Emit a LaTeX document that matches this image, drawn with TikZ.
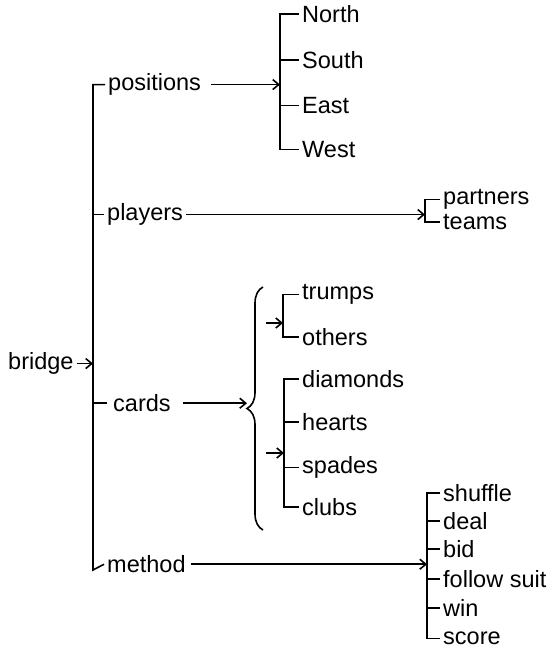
\documentclass[tikz,border=0pt]{standalone}
\usepackage{fontspec}
\setmainfont{Liberation Sans}
\usetikzlibrary{arrows.meta,decorations.pathreplacing}
\tikzset{
  lbl/.style={anchor=mid west, inner sep=0pt, font=\fontsize{23.5}{27}\selectfont},
  ln/.style={line width=1.6pt},
  arr/.style={line width=1.6pt, -{Straight Barb[length=6pt,width=10pt,line width=1.6pt]}}
}
\begin{document}
\begin{tikzpicture}[x=1pt,y=-1pt]
\useasboundingbox (0,0) rectangle (553,652);
\begin{scope}[shift={(0,5)}]
% root
\node[lbl] (bridge) at (8,362) {bridge};
\coordinate (mtop) at (93,83);
\coordinate (mbot) at (93,565);
% level 1
\node[lbl] (positions) at (108,83) {positions};
\node[lbl] (players) at (107,213) {players};
\node[lbl] (cards) at (113,404) {cards};
\node[lbl] (method) at (107,565) {method};
% positions group
\coordinate (pv) at (280,15);
\node[lbl] (north) at (302,15) {North};
\node[lbl] (south) at (302,61) {South};
\node[lbl] (east) at (302,106) {East};
\node[lbl] (west) at (302,150) {West};
% players group
\coordinate (plv) at (425,197);
\node[lbl] (partners) at (443,197) {partners};
\node[lbl] (teams) at (443,222) {teams};
% cards groups
\coordinate (bracetip) at (247,404);
\coordinate (tv) at (283,292);
\node[lbl] (trumps) at (302,292) {trumps};
\node[lbl] (others) at (302,338) {others};
\coordinate (tarr) at (266,318);
\coordinate (dv) at (284,380);
\node[lbl] (diamonds) at (302,380) {diamonds};
\node[lbl] (hearts) at (302,423) {hearts};
\node[lbl] (spades) at (302,466) {spades};
\node[lbl] (clubs) at (302,508) {clubs};
\coordinate (darr) at (266,448);
% method group
\coordinate (mv) at (427,494);
\node[lbl] (shuffle) at (443,494) {shuffle};
\node[lbl] (deal) at (443,522) {deal};
\node[lbl] (bid) at (443,550) {bid};
\node[lbl] (follow) at (443,580) {follow suit};
\node[lbl] (win) at (443,609) {win};
\node[lbl] (score) at (443,637) {score};

% main trunk
\draw[arr] ([xshift=3pt]bridge.east) -- (bridge.east -| mtop);
\draw[ln] ([xshift=-3pt]positions.west) -| (mbot) -- ([xshift=-3pt]method.west);
\draw[ln] (players.west -| mtop) -- ([xshift=-3pt]players.west);
\draw[ln] (cards.west -| mtop) -- ([xshift=-6pt]cards.west);

% positions
\draw[arr] ([xshift=10pt]positions.east) -- (positions.east -| pv);
\draw[ln] ([xshift=-3pt]north.west) -| (west.west -| pv) -- ([xshift=-3pt]west.west);
\draw[ln] (south.west -| pv) -- ([xshift=-3pt]south.west);
\draw[ln] (east.west -| pv) -- ([xshift=-3pt]east.west);

% players
\draw[arr] ([xshift=3pt]players.east) -- (players.east -| plv);
\draw[ln] ([xshift=-3pt]partners.west) -| (teams.west -| plv) -- ([xshift=-3pt]teams.west);

% cards
\draw[arr] ([xshift=12pt]cards.east) -- (cards.east -| bracetip);
\draw[ln, decorate, decoration={brace, amplitude=16pt}] (263,525) -- (263,282);
\draw[arr] (tarr) -- (tarr -| tv);
\draw[ln] ([xshift=-3pt]trumps.west) -| (others.west -| tv) -- ([xshift=-3pt]others.west);
\draw[arr] (darr) -- (darr -| dv);
\draw[ln] ([xshift=-3pt]diamonds.west) -| (clubs.west -| dv) -- ([xshift=-3pt]clubs.west);
\draw[ln] (hearts.west -| dv) -- ([xshift=-3pt]hearts.west);
\draw[ln] (spades.west -| dv) -- ([xshift=-3pt]spades.west);

% method
\draw[arr] ([xshift=5pt]method.east) -- (method.east -| mv);
\draw[ln] ([xshift=-3pt]shuffle.west) -| (score.west -| mv) -- ([xshift=-3pt]score.west);
\draw[ln] (deal.west -| mv) -- ([xshift=-3pt]deal.west);
\draw[ln] (bid.west -| mv) -- ([xshift=-3pt]bid.west);
\draw[ln] (follow.west -| mv) -- ([xshift=-3pt]follow.west);
\draw[ln] (win.west -| mv) -- ([xshift=-3pt]win.west);
\end{scope}
\end{tikzpicture}
\end{document}
